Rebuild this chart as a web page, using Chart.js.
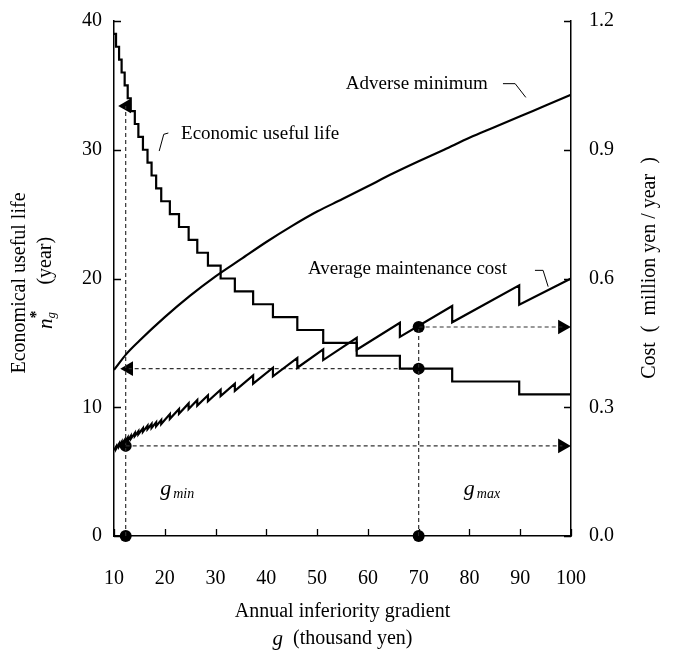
<!DOCTYPE html>
<html>
<head>
<meta charset="utf-8">
<title>Economical useful life and adverse minimum</title>
<script src="https://cdn.jsdelivr.net/npm/chart.js@4.4.1/dist/chart.umd.min.js"></script>
<style>
  html, body { margin: 0; padding: 0; background: #fff; }
  #box { position: relative; width: 673px; height: 654px; }
</style>
</head>
<body>
<div id="box"><canvas id="chart" width="673" height="654"></canvas></div>
<script>
// axis ticks
var xTicks = [10, 20, 30, 40, 50, 60, 70, 80, 90, 100];
var lifeTicks = [0, 10, 20, 30, 40];
var costTicks = [0, 0.3, 0.6, 0.9, 1.2];

// economic useful life n* (year): g where each step starts
var lifeG = [10, 10.4, 11.0, 11.5, 12.1, 12.7, 13.3, 14.1, 14.8, 15.7, 16.6, 17.4, 18.3, 19.3,
             21.0, 22.8, 24.7, 26.4, 28.5, 31.0, 33.8, 37.4, 41.3, 46.1, 51.2, 57.8, 66.3, 76.6, 89.8, 100];
var lifeYears = [39, 38, 37, 36, 35, 34, 33, 32, 31, 30, 29, 28, 27, 26,
                 25, 24, 23, 22, 21, 20, 19, 18, 17, 16, 15, 14, 13, 12, 11, 11];

// adverse minimum (million yen / year)
var advG = [10, 12.5, 15, 20, 25, 30, 35, 40, 45, 50, 55, 60, 65, 70, 75, 80, 85, 90, 95, 100];
var advCost = [0.387, 0.425, 0.455, 0.51, 0.56, 0.605, 0.645, 0.685, 0.722, 0.756, 0.785,
               0.815, 0.845, 0.873, 0.900, 0.928, 0.953, 0.978, 1.003, 1.028];

// average maintenance cost (million yen / year), drops where n* steps down
var maintG = [10, 10.4, 10.4, 11.0, 11.0, 11.5, 11.5, 12.1, 12.1, 12.7, 12.7, 13.3, 13.3, 14.1,
              14.1, 14.8, 14.8, 15.7, 15.7, 16.6, 16.6, 17.4, 17.4, 18.3, 18.3, 19.3, 19.3, 21.0,
              21.0, 22.8, 22.8, 24.7, 24.7, 26.4, 26.4, 28.5, 28.5, 31.0, 31.0, 33.8, 33.8, 37.4,
              37.4, 41.3, 41.3, 46.1, 46.1, 51.2, 51.2, 57.8, 57.8, 66.3, 66.3, 76.6, 76.6, 89.8,
              89.8, 100];
var maintCost = [0.200, 0.208, 0.203, 0.215, 0.209, 0.219, 0.213, 0.224, 0.218, 0.229, 0.222, 0.233,
                 0.226, 0.240, 0.233, 0.244, 0.237, 0.251, 0.243, 0.257, 0.249, 0.261, 0.252, 0.265,
                 0.256, 0.270, 0.261, 0.284, 0.273, 0.296, 0.285, 0.309, 0.296, 0.317, 0.304, 0.328,
                 0.314, 0.341, 0.326, 0.355, 0.338, 0.374, 0.355, 0.392, 0.372, 0.415, 0.392, 0.435,
                 0.410, 0.462, 0.434, 0.497, 0.464, 0.536, 0.498, 0.584, 0.539, 0.600];

// g_min / g_max read-off
var gMin = 12.3, gMax = 70;
var lifeAtGMin = 33.4, lifeAtGMax = 13;
var costAtGMin = 0.21, costAtGMax = 0.487;
var arrowLeftG = 12.5, arrowLeftG2 = 12.9, arrowRightG = 98.3;

var SERIF = '"Liberation Serif", "Times New Roman", serif';
Chart.defaults.font.family = SERIF;
Chart.defaults.color = '#000';

function pts(xs, ys) {
  return xs.map(function (x, i) { return { x: x, y: ys[i] }; });
}

var dash = { type: 'line', borderColor: '#333', borderWidth: 1.2, borderDash: [4, 3],
             pointRadius: 0, fill: false, tension: 0 };
var curve = { type: 'line', borderColor: '#000', borderWidth: 2.2, pointRadius: 0, fill: false };

function noPad(s) {
  s.paddingTop = 0; s.paddingBottom = 0; s.paddingLeft = 0; s.paddingRight = 0;
}

function drawParts(ctx, parts, x, y, align) {
  var w = 0;
  parts.forEach(function (p) { ctx.font = p[1]; w += ctx.measureText(p[0]).width + (p[3] || 0); });
  var cx = align === 'center' ? x - w / 2 : (align === 'right' ? x - w : x);
  parts.forEach(function (p) {
    ctx.font = p[1];
    ctx.fillText(p[0], cx, y + (p[2] || 0));
    cx += ctx.measureText(p[0]).width + (p[3] || 0);
  });
}

var decor = {
  id: 'decor',
  afterDraw: function (chart) {
    var ctx = chart.ctx, sx = chart.scales.x, sl = chart.scales.y, sr = chart.scales.y1;
    var a = chart.chartArea;
    ctx.save();
    // inward tick marks
    ctx.strokeStyle = '#000';
    ctx.lineWidth = 1.3;
    ctx.beginPath();
    xTicks.forEach(function (v) {
      var p = Math.round(sx.getPixelForValue(v)) + 0.5;
      ctx.moveTo(p, a.bottom); ctx.lineTo(p, a.bottom - 7);
    });
    lifeTicks.forEach(function (v) {
      var p = Math.round(sl.getPixelForValue(v)) + 0.5;
      ctx.moveTo(a.left, p); ctx.lineTo(a.left + 7, p);
    });
    costTicks.forEach(function (v) {
      var p = Math.round(sr.getPixelForValue(v)) + 0.5;
      ctx.moveTo(a.right, p); ctx.lineTo(a.right - 7, p);
    });
    ctx.stroke();

    ctx.fillStyle = '#000';
    ctx.textBaseline = 'middle';
    var ann = '19px ' + SERIF;

    // curve labels with leader lines
    ctx.font = ann;
    ctx.textAlign = 'left';
    ctx.fillText('Economic useful life', sx.getPixelForValue(23.2), sl.getPixelForValue(31.2));
    ctx.fillText('Average maintenance cost', sx.getPixelForValue(48.2), sr.getPixelForValue(0.621));
    ctx.textAlign = 'right';
    ctx.fillText('Adverse minimum', sx.getPixelForValue(83.6), sr.getPixelForValue(1.053));
    ctx.textAlign = 'left';

    ctx.lineWidth = 1;
    ctx.beginPath();
    ctx.moveTo(sx.getPixelForValue(18.9), sl.getPixelForValue(29.9));
    ctx.lineTo(sx.getPixelForValue(19.8), sl.getPixelForValue(31.2));
    ctx.lineTo(sx.getPixelForValue(20.7), sl.getPixelForValue(31.3));
    ctx.moveTo(sx.getPixelForValue(86.6), sr.getPixelForValue(1.054));
    ctx.lineTo(sx.getPixelForValue(89.0), sr.getPixelForValue(1.054));
    ctx.lineTo(sx.getPixelForValue(91.1), sr.getPixelForValue(1.022));
    ctx.moveTo(sx.getPixelForValue(92.9), sr.getPixelForValue(0.619));
    ctx.lineTo(sx.getPixelForValue(94.5), sr.getPixelForValue(0.619));
    ctx.lineTo(sx.getPixelForValue(95.5), sr.getPixelForValue(0.581));
    ctx.stroke();

    // g_min / g_max
    var gi = 'italic 22px ' + SERIF, sub = 'italic 14px ' + SERIF;
    drawParts(ctx, [['g', gi, 0, 2], ['min', sub, 5]], sx.getPixelForValue(19.1), sl.getPixelForValue(3.6), 'left');
    drawParts(ctx, [['g', gi, 0, 2], ['max', sub, 5]], sx.getPixelForValue(78.9), sl.getPixelForValue(3.6), 'left');

    // axis titles
    var tf = '20px ' + SERIF;
    drawParts(ctx, [['Annual inferiority gradient', tf]], (a.left + a.right) / 2, 612, 'center');
    drawParts(ctx, [['g', 'italic 21px ' + SERIF, 0, 0], ['  (thousand yen)', tf]], (a.left + a.right) / 2, 639, 'center');

    ctx.save();
    ctx.translate(20, 283);
    ctx.rotate(-Math.PI / 2);
    drawParts(ctx, [['Economical useful life', tf]], 0, 0, 'center');
    ctx.restore();

    ctx.save();
    ctx.translate(46, 283);
    ctx.rotate(-Math.PI / 2);
    ctx.font = 'italic 21px ' + SERIF;
    var wn = ctx.measureText('n').width;
    ctx.font = tf;
    var wy = ctx.measureText('(year)').width;
    var total = wn + 10 + 24 + wy;
    var x0 = -total / 2;
    ctx.font = 'italic 21px ' + SERIF;
    ctx.fillText('n', x0, 0);
    ctx.font = 'italic 13px ' + SERIF;
    ctx.fillText('g', x0 + wn, 6);
    ctx.font = 'bold 16px ' + SERIF;
    ctx.fillText('*', x0 + wn, -9);
    ctx.font = tf;
    ctx.fillText('(year)', x0 + wn + 34, 0);
    ctx.restore();

    ctx.save();
    ctx.translate(650, 268);
    ctx.rotate(-Math.PI / 2);
    drawParts(ctx, [['Cost  (  million yen / year  )', tf]], 0, 0, 'center');
    ctx.restore();

    ctx.restore();
  }
};

new Chart(document.getElementById('chart'), {
  type: 'line',
  data: {
    datasets: [
      Object.assign({ label: 'Economic useful life', data: pts(lifeG, lifeYears), yAxisID: 'y', stepped: true }, curve),
      Object.assign({ label: 'Adverse minimum', data: pts(advG, advCost), yAxisID: 'y1', cubicInterpolationMode: 'monotone' }, curve),
      Object.assign({ label: 'Average maintenance cost', data: pts(maintG, maintCost), yAxisID: 'y1', tension: 0 }, curve),
      Object.assign({ data: [{ x: gMin, y: 0 }, { x: gMin, y: lifeAtGMin }], yAxisID: 'y' }, dash),
      Object.assign({ data: [{ x: gMin, y: costAtGMin }, { x: arrowRightG, y: costAtGMin }], yAxisID: 'y1' }, dash),
      Object.assign({ data: [{ x: gMax, y: 0 }, { x: gMax, y: costAtGMax }], yAxisID: 'y1' }, dash),
      Object.assign({ data: [{ x: gMax, y: lifeAtGMax }, { x: arrowLeftG2, y: lifeAtGMax }], yAxisID: 'y' }, dash),
      Object.assign({ data: [{ x: gMax, y: costAtGMax }, { x: arrowRightG, y: costAtGMax }], yAxisID: 'y1' }, dash),
      {
        type: 'scatter', yAxisID: 'y', clip: false,
        data: [{ x: gMin, y: 0 }, { x: gMax, y: 0 }, { x: gMax, y: lifeAtGMax }],
        pointRadius: 6, pointBackgroundColor: '#000', pointBorderColor: '#000', pointBorderWidth: 0
      },
      {
        type: 'scatter', yAxisID: 'y1', clip: false,
        data: [{ x: gMin, y: costAtGMin }, { x: gMax, y: costAtGMax }],
        pointRadius: 6, pointBackgroundColor: '#000', pointBorderColor: '#000', pointBorderWidth: 0
      },
      {
        type: 'scatter', yAxisID: 'y', clip: false,
        data: [{ x: arrowLeftG, y: lifeAtGMin }, { x: arrowLeftG2, y: lifeAtGMax }],
        pointStyle: 'triangle', rotation: 270, pointRadius: 8.5,
        pointBackgroundColor: '#000', pointBorderColor: '#000', pointBorderWidth: 0
      },
      {
        type: 'scatter', yAxisID: 'y1', clip: false,
        data: [{ x: arrowRightG, y: costAtGMin }, { x: arrowRightG, y: costAtGMax }],
        pointStyle: 'triangle', rotation: 90, pointRadius: 8.5,
        pointBackgroundColor: '#000', pointBorderColor: '#000', pointBorderWidth: 0
      }
    ]
  },
  options: {
    responsive: false,
    animation: false,
    layout: { padding: { top: 21, left: 0, right: 0, bottom: 0 } },
    plugins: { legend: { display: false }, tooltip: { enabled: false } },
    scales: {
      x: {
        type: 'linear', min: 10, max: 100,
        afterBuildTicks: function (s) { s.ticks = xTicks.map(function (v) { return { value: v }; }); },
        afterFit: function (s) { s.height = 118; noPad(s); },
        grid: { display: false, drawTicks: false },
        border: { display: true, color: '#000', width: 1.5 },
        ticks: { font: { size: 20 }, padding: 31, maxRotation: 0 }
      },
      y: {
        type: 'linear', position: 'left', min: 0, max: 40,
        afterBuildTicks: function (s) { s.ticks = lifeTicks.map(function (v) { return { value: v }; }); },
        afterFit: function (s) { s.width = 114; noPad(s); },
        grid: { display: false, drawTicks: false },
        border: { display: true, color: '#000', width: 1.5 },
        ticks: { font: { size: 20 }, padding: 12 }
      },
      y1: {
        type: 'linear', position: 'right', min: 0, max: 1.2,
        afterBuildTicks: function (s) { s.ticks = costTicks.map(function (v) { return { value: v }; }); },
        afterFit: function (s) { s.width = 102; noPad(s); },
        grid: { display: false, drawTicks: false },
        border: { display: true, color: '#000', width: 1.5 },
        ticks: { font: { size: 20 }, padding: 18, callback: function (v) { return v.toFixed(1); } }
      }
    }
  },
  plugins: [decor]
});
</script>
</body>
</html>
